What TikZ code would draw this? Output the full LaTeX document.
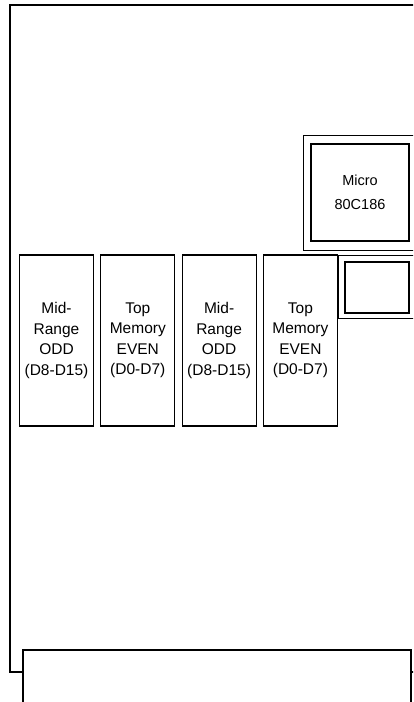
\documentclass[tikz,border=0pt]{standalone}
\usepackage{fontspec}
\setmainfont{Liberation Sans}
\usetikzlibrary{positioning}
\tikzstyle{membank} = [rectangle, draw=black, line width=1.1pt, minimum width=74pt, minimum height=171pt, inner sep=0pt, text centered, align=center, font=\fontsize{15.5}{20.5}\selectfont]
\tikzstyle{frame} = [rectangle, draw=black, line width=0.6pt, inner sep=0pt]
\tikzstyle{chip} = [rectangle, draw=black, line width=1.4pt, inner sep=0pt, text centered, align=center, font=\fontsize{14.5}{24}\selectfont]

\begin{document}
\begin{tikzpicture}[x=1pt, y=-1pt]
\useasboundingbox (0,0) rectangle (413,702);
\clip (0,0) rectangle (413,702);

% board outline
\draw[line width=1.8pt] (430,5) -- (10,5) -- (10,672) -- (23,672);
\draw[line width=1.8pt] (411,672) -- (430,672);

% memory banks
\node (midodd1) [membank] at (56.5,340.5) {Mid-\\Range\\ODD\\(D8-D15)};
\node (topeven1) [membank, right=6.2pt of midodd1] {Top\\Memory\\EVEN\\(D0-D7)};
\node (midodd2) [membank, right=6.2pt of topeven1] {Mid-\\Range\\ODD\\(D8-D15)};
\node (topeven2) [membank, right=6.2pt of midodd2] {Top\\Memory\\EVEN\\(D0-D7)};

% processor and socket
\node (microframe) [frame, minimum width=127pt, minimum height=115pt] at (366.5,192.5) {};
\node (micro) [chip, minimum width=98pt, minimum height=97pt] at (360,192.5) {Micro\\80C186};
\node (socketframe) [frame, line width=1pt, minimum width=91pt, minimum height=63pt, below=5pt of microframe.south east, anchor=north east] {};
\node (socket) [chip, line width=1.1pt, minimum width=64pt, minimum height=51pt] at (377,287.5) {};

% connector strip
\node (conn) [frame, line width=1.1pt, minimum width=388pt, minimum height=90pt] at (217,695) {};
\end{tikzpicture}
\end{document}
